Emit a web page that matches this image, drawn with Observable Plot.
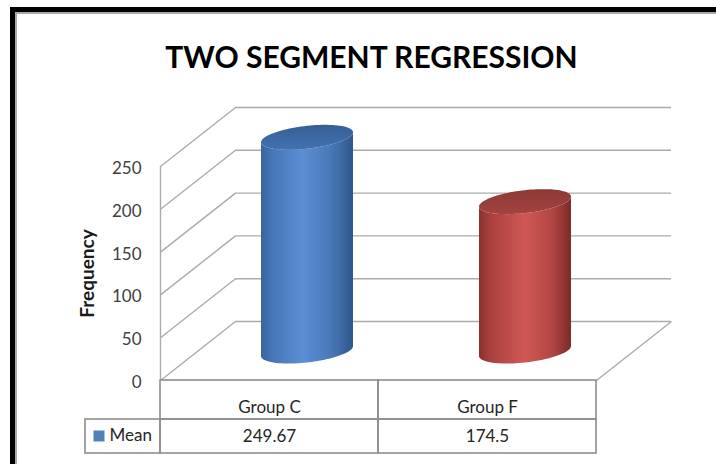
<!DOCTYPE html>
<html>
<head>
<meta charset="utf-8">
<script src="https://cdn.jsdelivr.net/npm/d3@7"></script>
<script src="https://cdn.jsdelivr.net/npm/@observablehq/plot@0.6"></script>
<style>
  html, body { margin: 0; padding: 0; background: #fff; overflow: hidden; }
  #wrap { position: relative; width: 716px; height: 464px; }
  #frameBlack { position: absolute; left: 10px; top: 7px; width: 760px; height: 520px;
    border-left: 5px solid #000; border-top: 5px solid #000; box-sizing: border-box; pointer-events: none; }
  #frameGrey { position: absolute; left: 15px; top: 12px; width: 760px; height: 520px;
    border-left: 2px solid #a9a9a9; border-top: 2px solid #a9a9a9; box-sizing: border-box; pointer-events: none; }
</style>
</head>
<body>
<div id="wrap"></div>
<script>
// ---- data ----
const title = "TWO SEGMENT REGRESSION";
const yLabel = "Frequency";
const categories = ["Group C", "Group F"];
const means = [249.67, 174.5];
const meanLabels = ["249.67", "174.5"];
const seriesName = "Mean";
const yTicks = [0, 50, 100, 150, 200, 250];

// ---- styles / 3D geometry (data units) ----
const DX = 0.344, DY = 68.9;        // depth of the box
const W = 0.211, H = 13.4, K = 5.8;  // cylinder half-width, ellipse half-height, tilt
const gridColor = "#ababab";
const tableColor = "#8e8e8e";
const font = "Lato, 'Open Sans', sans-serif";

function bodyPts(i, v) {
  const cx = i + 0.5 + DX / 2, base = DY / 2, top = v + DY / 2, n = 48, pts = [];
  pts.push({x: cx - W, y: top - K});
  for (let j = 0; j <= n; j++) { const t = Math.PI + Math.PI * j / n;
    pts.push({x: cx + W * Math.cos(t), y: base + H * Math.sin(t) + K * Math.cos(t)}); }
  for (let j = 0; j <= n; j++) { const t = 2 * Math.PI - Math.PI * j / n;
    pts.push({x: cx + W * Math.cos(t), y: top + H * Math.sin(t) + K * Math.cos(t)}); }
  return pts;
}
function topPts(i, v) {
  const cx = i + 0.5 + DX / 2, top = v + DY / 2, n = 96, pts = [];
  for (let j = 0; j <= n; j++) { const t = 2 * Math.PI * j / n;
    pts.push({x: cx + W * Math.cos(t), y: top + H * Math.sin(t) + K * Math.cos(t)}); }
  return pts;
}

const cylMarks = [];
categories.forEach((c, i) => {
  cylMarks.push(Plot.line(bodyPts(i, means[i]), {x: "x", y: "y", fill: `url(#body${i})`, stroke: "none", curve: "linear"}));
  cylMarks.push(Plot.line(topPts(i, means[i]), {x: "x", y: "y", fill: `url(#top${i})`, stroke: "none", curve: "linear"}));
});

const plot = Plot.plot({
  width: 716, height: 464,
  marginLeft: 160, marginRight: 120, marginTop: 166, marginBottom: 84,
  style: {fontFamily: font, fontSize: "16px", background: "transparent", overflow: "visible"},
  x: {domain: [0, categories.length], axis: null},
  y: {domain: [0, 250], axis: null},
  marks: [
    // back wall gridlines
    Plot.ruleY(yTicks, {x1: DX, x2: categories.length + DX, y: d => d + DY, stroke: gridColor, strokeWidth: 1.4}),
    // side wall diagonals
    Plot.link(yTicks, {x1: 0, y1: d => d, x2: DX, y2: d => d + DY, stroke: gridColor, strokeWidth: 1.4}),
    // floor right edge
    Plot.link([0], {x1: categories.length, y1: 0, x2: categories.length + DX, y2: DY, stroke: gridColor, strokeWidth: 1.4}),
    // front vertical axis
    Plot.ruleX([0], {y1: 0, y2: 250, stroke: gridColor, strokeWidth: 1.4}),
    // tick labels
    Plot.text(yTicks, {x: 0, y: d => d, dx: -19, dy: 2, textAnchor: "end", fontSize: 17, fill: "#404040"}),
    // y label
    Plot.text([yLabel], {frameAnchor: "left", dx: -73, rotate: -90, textAnchor: "middle", lineAnchor: "middle", fontSize: 19, fontWeight: "bold", fill: "#1a1a1a"}),
    // title
    Plot.text([title], {frameAnchor: "top", dx: -7, dy: -108, lineAnchor: "middle", fontSize: 30, fontWeight: "bold", fill: "#000"}),
    // cylinders
    ...cylMarks,
    // data table
    Plot.rect(categories, {x1: (d, i) => i, x2: (d, i) => i + 1, y1: 0, y2: 0, insetBottom: -39, fill: "none", stroke: tableColor, strokeWidth: 1.6}),
    Plot.rect(categories, {x1: (d, i) => i, x2: (d, i) => i + 1, y1: 0, y2: 0, insetTop: 39, insetBottom: -73, fill: "none", stroke: tableColor, strokeWidth: 1.6}),
    Plot.rect([seriesName], {x1: 0, x2: 0, y1: 0, y2: 0, insetLeft: -75, insetTop: 39, insetBottom: -73, fill: "none", stroke: tableColor, strokeWidth: 1.6}),
    Plot.text(categories, {x: (d, i) => i + 0.5, y: 0, dy: 27, fontSize: 17, fill: "#262626"}),
    Plot.text(meanLabels, {x: (d, i) => i + 0.5, y: 0, dy: 56, fontSize: 17, fill: "#262626"}),
    Plot.dot([seriesName], {x: 0, y: 0, dx: -61.5, dy: 55.5, symbol: "square", r: 6.2, fill: "#4f81bd", stroke: "none"}),
    Plot.text([seriesName], {x: 0, y: 0, dx: -51, dy: 55, textAnchor: "start", fontSize: 17, fill: "#262626"})
  ]
});

// gradients
const defs = d3.select(plot).insert("defs", ":first-child");
function hgrad(id, stops) {
  const g = defs.append("linearGradient").attr("id", id).attr("x1", 0).attr("x2", 1).attr("y1", 0).attr("y2", 0);
  stops.forEach(([o, c]) => g.append("stop").attr("offset", o).attr("stop-color", c));
}
function vgrad(id, stops) {
  const g = defs.append("linearGradient").attr("id", id).attr("x1", 0).attr("x2", 0).attr("y1", 0).attr("y2", 1);
  stops.forEach(([o, c]) => g.append("stop").attr("offset", o).attr("stop-color", c));
}
hgrad("body0", [[0, "#3a63a0"], [0.12, "#4676b6"], [0.45, "#5c8ed4"], [0.75, "#4a79b8"], [1, "#30578c"]]);
hgrad("body1", [[0, "#883230"], [0.12, "#a9403d"], [0.5, "#d05856"], [0.78, "#b44744"], [1, "#7e2b2a"]]);
vgrad("top0", [[0, "#375e95"], [1, "#4272b0"]]);
vgrad("top1", [[0, "#8d3835"], [1, "#a3433f"]]);

const wrap = document.getElementById("wrap");
wrap.appendChild(plot);
const fb = document.createElement("div"); fb.id = "frameBlack"; wrap.appendChild(fb);
const fg = document.createElement("div"); fg.id = "frameGrey"; wrap.appendChild(fg);
plot.style.position = "absolute"; plot.style.left = "0"; plot.style.top = "0";
</script>
</body>
</html>
